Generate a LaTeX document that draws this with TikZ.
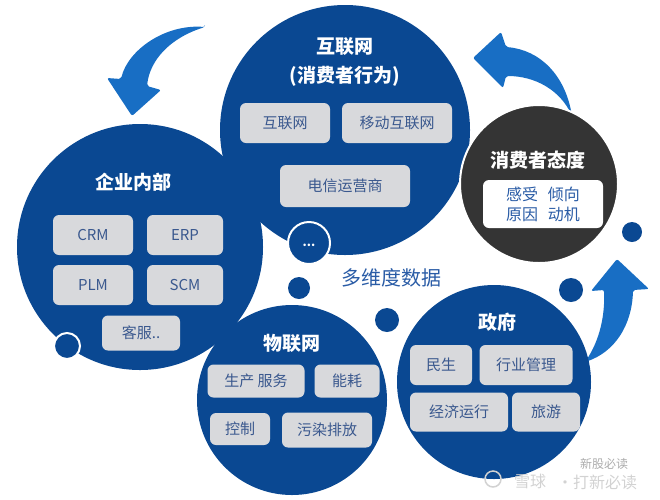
\documentclass[tikz,border=0pt]{standalone}
\usepackage{fontspec}
\setmainfont{Noto Sans CJK SC}
\definecolor{dblue}{RGB}{10,72,146}
\definecolor{ablue}{RGB}{24,110,196}
\definecolor{boxgray}{RGB}{216,217,220}
\definecolor{boxtext}{RGB}{58,88,142}
\definecolor{dark}{RGB}{52,52,52}
\definecolor{midblue}{RGB}{42,92,166}
\tikzset{
  bigc/.style={fill=dblue},
  dot/.style={fill=dblue},
  ringdot/.style={fill=dblue, draw=white, line width=2pt},
  arrowshape/.style={fill=ablue, rounded corners=2pt},
  title/.style={text=white, font=\bfseries\fontsize{19}{24}\selectfont, align=center, inner sep=0pt},
  boxn/.style={fill=boxgray, rounded corners=6pt, text=boxtext, font=\fontsize{15}{18}\selectfont, inner sep=0pt},
  wm/.style={text=gray!35, font=\fontsize{16}{19}\selectfont, inner sep=0pt},
}
\begin{document}
\begin{tikzpicture}[x=1pt,y=-1pt]
\useasboundingbox (0,0) rectangle (660,499);
% arrows
\fill[arrowshape] (205,27) .. controls (165,24) and (128,50) .. (121,79) -- (107,78) -- (132,116) -- (161,90) -- (147,86) .. controls (150,60) and (170,38) .. (205,27) -- cycle;
\fill[arrowshape] (572,116) .. controls (565,75) and (540,50) .. (506,47) -- (501,32) -- (473,58) -- (503,88) -- (506,76) .. controls (535,76) and (560,90) .. (572,116) -- cycle;
\fill[arrowshape] (585,362) .. controls (600,340) and (605,315) .. (604,290) -- (591,291) -- (617,259) -- (649,289) -- (633,290) .. controls (632,325) and (615,352) .. (585,362) -- cycle;
% big circles
\fill[bigc] (140,247) circle (123);
\fill[bigc] (345,130) circle (125);
\fill[bigc] (292,400) circle (95);
\fill[bigc] (494,382) circle (97);
\fill[fill=dark, draw=white, line width=2pt] (539,184) circle (79);
% small dots
\fill[ringdot] (309,243) circle (21);
\node[text=white, font=\bfseries\fontsize{12}{14}\selectfont] (dots) at (309,245) {...};
\fill[dot] (299,288) circle (11);
\fill[dot] (387,320) circle (12);
\fill[dot] (571,290) circle (12);
\fill[dot] (632,232) circle (10);
\fill[ringdot] (67,346) circle (13);
% titles
\node[title] (t1) at (345,47) {互联网};
\node[title] (t1b) at (345,76) {(消费者行为)};
\node[title] (t2) at (133,182) {企业内部};
\node[title] (t3) at (292,343) {物联网};
\node[title] (t4) at (497,322) {政府};
\node[title] (t5) at (538,160) {消费者态度};
\node[text=midblue, font=\fontsize{20}{24}\selectfont, inner sep=0pt] (md) at (391,278) {多维度数据};
% boxes top
\node[boxn, minimum width=90, minimum height=40] (b1) at (285,123) {互联网};
\node[boxn, minimum width=110, minimum height=40] (b2) at (397,123) {移动互联网};
\node[boxn, minimum width=130, minimum height=42] (b3) at (345,186) {电信运营商};
% boxes left
\node[boxn, minimum width=80, minimum height=40] (c1) at (93,235) {CRM};
\node[boxn, minimum width=76, minimum height=40] (c2) at (185,235) {ERP};
\node[boxn, minimum width=80, minimum height=40] (c3) at (93,285) {PLM};
\node[boxn, minimum width=76, minimum height=40] (c4) at (185,285) {SCM};
\node[boxn, minimum width=78, minimum height=35] (c5) at (141,333) {客服..};
% boxes bottom
\node[boxn, minimum width=97, minimum height=33] (d1) at (256,381) {生产 服务};
\node[boxn, minimum width=65, minimum height=33] (d2) at (347,381) {能耗};
\node[boxn, minimum width=60, minimum height=32] (d3) at (240,429) {控制};
\node[boxn, minimum width=90, minimum height=35] (d4) at (327,430) {污染排放};
% boxes right
\node[boxn, minimum width=62, minimum height=40] (e1) at (441,365) {民生};
\node[boxn, minimum width=93, minimum height=40] (e2) at (526,365) {行业管理};
\node[boxn, minimum width=98, minimum height=39] (e3) at (459,412) {经济运行};
\node[boxn, minimum width=68, minimum height=39] (e4) at (546,412) {旅游};
% attitude box
\node[fill=white, rounded corners=6pt, minimum width=120, minimum height=48, inner sep=0pt, text=midblue, font=\fontsize{16}{20}\selectfont, align=center] (f1) at (543,204) {感受\hspace{0.6em}倾向\\原因\hspace{0.6em}动机};
% watermark
\draw[gray!35, line width=1.5pt] (493,479) circle (8);
\node[wm] (w1) at (530,481) {雪球};
\node[wm] (w2) at (597,482) {·打新必读};
\node[text=gray!65, font=\fontsize{12}{14}\selectfont, inner sep=0pt] (w3) at (604,464) {新股必读};
\end{tikzpicture}
\end{document}
